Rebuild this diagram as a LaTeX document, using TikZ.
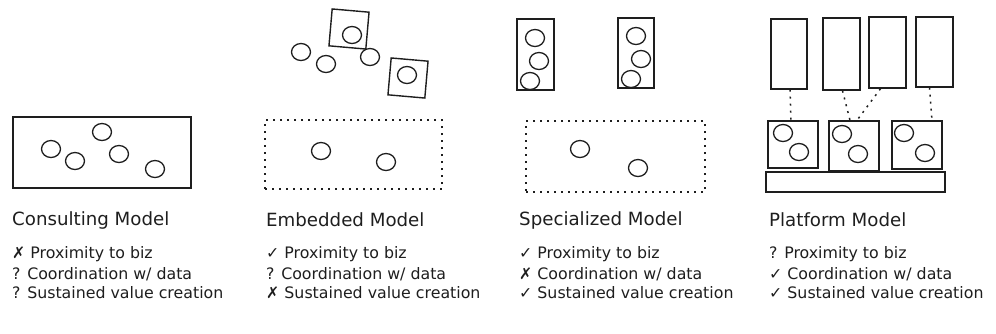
\documentclass[tikz,border=0pt]{standalone}
\usepackage{fontspec}
\setmainfont{DejaVu Sans}
\usetikzlibrary{shapes.geometric,calc}
\definecolor{ink}{HTML}{1E1E1E}
\begin{document}
\begin{tikzpicture}[x=1pt,y=-1pt,
  box/.style={draw=ink, line width=1.4pt, rectangle, inner sep=0pt},
  dotbox/.style={draw=ink, line width=1.5pt, dash pattern=on 2pt off 5pt, rectangle, inner sep=0pt},
  blob/.style={draw=ink, line width=1.3pt, ellipse, minimum width=19pt, minimum height=17pt, inner sep=0pt},
  title/.style={anchor=west, font=\fontsize{18.2}{20}\selectfont, text=ink, inner sep=0pt},
  item/.style={anchor=west, font=\fontsize{15.8}{17}\selectfont, text=ink, inner sep=0pt},
  link/.style={draw=ink, line width=1.5pt, dash pattern=on 2pt off 5pt}]
\useasboundingbox (0,0) rectangle (996,333);

% ---------- Consulting ----------
\node[box, minimum width=178pt, minimum height=71pt] (c) at (102,152.5) {};
\node[blob] (c1) at (51,149) {};
\node[blob] (c2) at (75,161) {};
\node[blob] (c3) at (102,132) {};
\node[blob] (c4) at (119,154) {};
\node[blob] (c5) at (155,169) {};
\node[title] (ct) at (12,220) {Consulting Model};
\node[item] (ci1) at (12,254) {✗ Proximity to biz};
\node[item] (ci2) at (12,274) {? Coordination w/ data};
\node[item] (ci3) at (12,293) {? Sustained value creation};

% ---------- Embedded ----------
\node[box, minimum width=37pt, minimum height=37pt, rotate=-5] (e1) at (349,29) {};
\node[blob] (e1c) at (352,35) {};
\node[box, minimum width=37pt, minimum height=37pt, rotate=-5] (e2) at (408,78) {};
\node[blob] (e2c) at (407,75) {};
\node[blob] (ea) at (301,52) {};
\node[blob] (eb) at (326,64) {};
\node[blob] (ec) at (370,57) {};
\node[dotbox, minimum width=177pt, minimum height=69pt] (ed) at (353.5,154.5) {};
\node[blob] (ed1) at (321,151) {};
\node[blob] (ed2) at (386,162) {};
\node[title] (et) at (266,220) {Embedded Model};
\node[item] (ei1) at (266,254) {✓ Proximity to biz};
\node[item] (ei2) at (266,274) {? Coordination w/ data};
\node[item] (ei3) at (266,293) {✗ Sustained value creation};

% ---------- Specialized ----------
\node[box, minimum width=37pt, minimum height=71pt] (s1) at (535.5,54.5) {};
\node[blob] (s1a) at (535,38) {};
\node[blob] (s1b) at (539,61) {};
\node[blob] (s1c) at (530,81) {};
\node[box, minimum width=36pt, minimum height=70pt] (s2) at (636,53) {};
\node[blob] (s2a) at (636,36) {};
\node[blob] (s2b) at (641,59) {};
\node[blob] (s2c) at (631,79) {};
\node[dotbox, minimum width=179pt, minimum height=71pt] (sd) at (615.5,156.5) {};
\node[blob] (sd1) at (580,149) {};
\node[blob] (sd2) at (638,168) {};
\node[title] (st) at (519,220) {Specialized Model};
\node[item] (si1) at (519,254) {✓ Proximity to biz};
\node[item] (si2) at (519,274) {✗ Coordination w/ data};
\node[item] (si3) at (519,293) {✓ Sustained value creation};

% ---------- Platform ----------
\node[box, minimum width=36pt, minimum height=70pt] (r1) at (789,54) {};
\node[box, minimum width=37pt, minimum height=72pt] (r2) at (841.5,54) {};
\node[box, minimum width=37pt, minimum height=71pt] (r3) at (887.5,52.5) {};
\node[box, minimum width=37pt, minimum height=70pt] (r4) at (934.5,52) {};
\node[box, minimum width=50pt, minimum height=47pt] (b1) at (793,144.5) {};
\node[box, minimum width=50pt, minimum height=50pt] (b2) at (854,146) {};
\node[box, minimum width=50pt, minimum height=48pt] (b3) at (917,145) {};
\node[box, minimum width=179pt, minimum height=20pt] (base) at (855.5,182) {};
\node[blob] (b1a) at (783,133) {};
\node[blob] (b1b) at (799,152) {};
\node[blob] (b2a) at (842,134) {};
\node[blob] (b2b) at (858,154) {};
\node[blob] (b3a) at (904,133) {};
\node[blob] (b3b) at (925,153) {};
\draw[link] ($(r1.south)+(1,0)$) -- ($(b1.north)+(-2,0)$);
\draw[link] ($(r2.south)+(1,0)$) -- ($(b2.north)+(-4,0)$);
\draw[link] ($(r3.south)+(-7,0)$) -- ($(b2.north)+(3,0)$);
\draw[link] ($(r4.south)+(-5,0)$) -- ($(b3.north)+(15,0)$);
\node[title] (pt) at (769,220) {Platform Model};
\node[item] (pi1) at (769,254) {? Proximity to biz};
\node[item] (pi2) at (769,274) {✓ Coordination w/ data};
\node[item] (pi3) at (769,293) {✓ Sustained value creation};
\end{tikzpicture}
\end{document}
